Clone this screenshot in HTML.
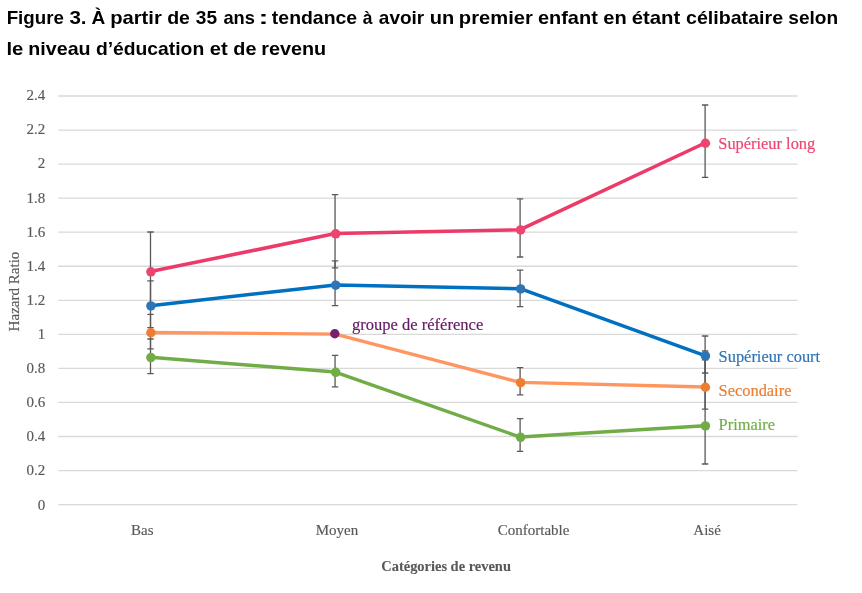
<!DOCTYPE html>
<html lang="fr"><head><meta charset="utf-8"><title>Figure 3</title>
<style>html,body{margin:0;padding:0;background:#fff}svg{display:block}</style></head>
<body>
<svg width="862" height="593" viewBox="0 0 862 593">
<rect width="862" height="593" fill="#fff"/>
<g stroke="#D9D9D9" stroke-width="1.3">
<line x1="58.2" x2="797.5" y1="504.60" y2="504.60"/>
<line x1="58.2" x2="797.5" y1="470.55" y2="470.55"/>
<line x1="58.2" x2="797.5" y1="436.50" y2="436.50"/>
<line x1="58.2" x2="797.5" y1="402.45" y2="402.45"/>
<line x1="58.2" x2="797.5" y1="368.40" y2="368.40"/>
<line x1="58.2" x2="797.5" y1="334.35" y2="334.35"/>
<line x1="58.2" x2="797.5" y1="300.30" y2="300.30"/>
<line x1="58.2" x2="797.5" y1="266.25" y2="266.25"/>
<line x1="58.2" x2="797.5" y1="232.20" y2="232.20"/>
<line x1="58.2" x2="797.5" y1="198.15" y2="198.15"/>
<line x1="58.2" x2="797.5" y1="164.10" y2="164.10"/>
<line x1="58.2" x2="797.5" y1="130.05" y2="130.05"/>
<line x1="58.2" x2="797.5" y1="96.00" y2="96.00"/>
</g>
<g font-family="'Liberation Serif', serif" font-size="15" fill="#595959" stroke="#595959" stroke-width="0.15" text-anchor="end">
<text x="45.2" y="509.60">0</text>
<text x="45.2" y="475.48">0.2</text>
<text x="45.2" y="441.37">0.4</text>
<text x="45.2" y="407.25">0.6</text>
<text x="45.2" y="373.13">0.8</text>
<text x="45.2" y="339.02">1</text>
<text x="45.2" y="304.90">1.2</text>
<text x="45.2" y="270.78">1.4</text>
<text x="45.2" y="236.66">1.6</text>
<text x="45.2" y="202.55">1.8</text>
<text x="45.2" y="168.43">2</text>
<text x="45.2" y="134.31">2.2</text>
<text x="45.2" y="100.20">2.4</text>
</g>
<g font-family="'Liberation Serif', serif" font-size="15" fill="#595959" stroke="#595959" stroke-width="0.15" text-anchor="middle">
<text x="142.3" y="535.3">Bas</text>
<text x="337.0" y="535.3">Moyen</text>
<text x="533.6" y="535.3">Confortable</text>
<text x="707.1" y="535.3">Aisé</text>
</g>
<text x="446.1" y="570.5" font-family="'Liberation Serif', serif" font-weight="bold" font-size="14.45" fill="#595959" stroke="#595959" stroke-width="0.1" text-anchor="middle">Catégories de revenu</text>
<text transform="translate(19.1,291.5) rotate(-90)" font-family="'Liberation Serif', serif" font-size="15.05" fill="#595959" stroke="#595959" stroke-width="0.15" text-anchor="middle">Hazard Ratio</text>
<g stroke="#595959" stroke-width="1.3" fill="none">
<path d="M147.30 232.0H153.70M150.50 232.0V305.7M147.30 305.7H153.70"/>
<path d="M147.30 280.8H153.70M150.50 280.8V327.7M147.30 327.7H153.70"/>
<path d="M147.30 314.4H153.70M150.50 314.4V348.8M147.30 348.8H153.70"/>
<path d="M147.30 339.0H153.70M150.50 339.0V373.6M147.30 373.6H153.70"/>
<path d="M331.85 194.7H338.25M335.05 194.7V267.9M331.85 267.9H338.25"/>
<path d="M331.85 260.8H338.25M335.05 260.8V305.7M331.85 305.7H338.25"/>
<path d="M331.85 355.4H338.25M335.05 355.4V386.8M331.85 386.8H338.25"/>
<path d="M516.90 198.9H523.30M520.10 198.9V257.0M516.90 257.0H523.30"/>
<path d="M516.90 270.1H523.30M520.10 270.1V306.6M516.90 306.6H523.30"/>
<path d="M516.90 367.6H523.30M520.10 367.6V394.9M516.90 394.9H523.30"/>
<path d="M516.90 418.6H523.30M520.10 418.6V451.4M516.90 451.4H523.30"/>
<path d="M701.90 105.0H708.30M705.10 105.0V177.3M701.90 177.3H708.30"/>
<path d="M701.90 336.0H708.30M705.10 336.0V373.0M701.90 373.0H708.30"/>
<path d="M701.90 359.8H708.30M705.10 359.8V409.2M701.90 409.2H708.30"/>
<path d="M701.90 351.0H708.30M705.10 351.0V464.0M701.90 464.0H708.30"/>
</g>
<polyline points="150.5,357.3 335.3,372.1 520.2,437.1 705.0,425.7" fill="none" stroke="#70AD47" stroke-width="3.5" stroke-linejoin="round" stroke-linecap="round"/>
<circle cx="150.9" cy="357.55" r="4.75" fill="#70AD47"/>
<circle cx="335.7" cy="372.35" r="4.75" fill="#70AD47"/>
<circle cx="520.6" cy="437.35" r="4.75" fill="#70AD47"/>
<circle cx="705.4" cy="425.95" r="4.75" fill="#70AD47"/>
<polyline points="150.5,332.5 335.3,334.2 520.2,382.4 705.0,387.0" fill="none" stroke="#FF9560" stroke-width="3.3" stroke-linejoin="round" stroke-linecap="round"/>
<circle cx="150.9" cy="332.75" r="4.75" fill="#ED7D31"/>
<circle cx="520.6" cy="382.65" r="4.75" fill="#ED7D31"/>
<circle cx="705.4" cy="387.25" r="4.75" fill="#ED7D31"/>
<polyline points="150.5,305.7 335.3,284.9 520.2,288.7 705.0,355.7" fill="none" stroke="#0070C0" stroke-width="3.5" stroke-linejoin="round" stroke-linecap="round"/>
<circle cx="150.9" cy="305.95" r="4.75" fill="#2E75B6"/>
<circle cx="335.7" cy="285.15" r="4.75" fill="#2E75B6"/>
<circle cx="520.6" cy="288.95" r="4.75" fill="#2E75B6"/>
<circle cx="705.4" cy="355.95" r="4.75" fill="#2E75B6"/>
<polyline points="150.5,271.6 335.3,233.6 520.2,229.7 705.0,143.0" fill="none" stroke="#EC3B68" stroke-width="3.55" stroke-linejoin="round" stroke-linecap="round"/>
<circle cx="150.9" cy="271.85" r="4.75" fill="#EE4570"/>
<circle cx="335.7" cy="233.85" r="4.75" fill="#EE4570"/>
<circle cx="520.6" cy="229.90" r="4.75" fill="#EE4570"/>
<circle cx="705.4" cy="143.25" r="4.75" fill="#EE4570"/>
<circle cx="334.8" cy="333.7" r="4.7" fill="#75206D"/>
<g font-family="'Liberation Serif', serif" font-size="16.4" stroke-width="0.18">
<text x="718.3" y="149.1" fill="#EE4570" stroke="#EE4570">Supérieur long</text>
<text x="718.6" y="362.0" fill="#2E75B6" stroke="#2E75B6">Supérieur court</text>
<text x="718.6" y="395.7" fill="#ED7D31" stroke="#ED7D31">Secondaire</text>
<text x="718.6" y="429.7" fill="#70AD47" stroke="#70AD47">Primaire</text>
<text x="352" y="329.9" fill="#651A65" stroke="#651A65" font-size="16.55">groupe de référence</text>
</g>
<g font-family="'Liberation Sans', sans-serif" font-weight="bold" font-size="19.0" fill="#000" style="font-kerning:none">
<text y="24.0"><tspan x="6.65" textLength="57.19" lengthAdjust="spacingAndGlyphs">Figure</tspan> <tspan x="69.43" textLength="17.19" lengthAdjust="spacingAndGlyphs">3.</tspan> <tspan x="91.42" textLength="13.78" lengthAdjust="spacingAndGlyphs">À</tspan> <tspan x="110.17" textLength="51.64" lengthAdjust="spacingAndGlyphs">partir</tspan> <tspan x="167.20" textLength="22.77" lengthAdjust="spacingAndGlyphs">de</tspan> <tspan x="195.86" textLength="21.27" lengthAdjust="spacingAndGlyphs">35</tspan> <tspan x="223.46" textLength="31.48" lengthAdjust="spacingAndGlyphs">ans</tspan> <tspan x="258.63" textLength="9.95" lengthAdjust="spacingAndGlyphs">:</tspan> <tspan x="271.86" textLength="85.30" lengthAdjust="spacingAndGlyphs">tendance</tspan> <tspan x="362.76" textLength="9.70" lengthAdjust="spacingAndGlyphs">à</tspan> <tspan x="378.84" textLength="45.44" lengthAdjust="spacingAndGlyphs">avoir</tspan> <tspan x="429.76" textLength="24.49" lengthAdjust="spacingAndGlyphs">un</tspan> <tspan x="458.87" textLength="73.93" lengthAdjust="spacingAndGlyphs">premier</tspan> <tspan x="537.92" textLength="59.92" lengthAdjust="spacingAndGlyphs">enfant</tspan> <tspan x="603.32" textLength="23.43" lengthAdjust="spacingAndGlyphs">en</tspan> <tspan x="631.70" textLength="48.64" lengthAdjust="spacingAndGlyphs">étant</tspan> <tspan x="686.03" textLength="97.04" lengthAdjust="spacingAndGlyphs">célibataire</tspan> <tspan x="788.33" textLength="49.75" lengthAdjust="spacingAndGlyphs">selon</tspan></text>
<text y="54.9"><tspan x="6.48" textLength="16.91" lengthAdjust="spacingAndGlyphs">le</tspan> <tspan x="28.30" textLength="62.29" lengthAdjust="spacingAndGlyphs">niveau</tspan> <tspan x="95.91" textLength="108.29" lengthAdjust="spacingAndGlyphs">d’éducation</tspan> <tspan x="209.71" textLength="17.93" lengthAdjust="spacingAndGlyphs">et</tspan> <tspan x="233.39" textLength="23.09" lengthAdjust="spacingAndGlyphs">de</tspan> <tspan x="261.19" textLength="65.01" lengthAdjust="spacingAndGlyphs">revenu</tspan></text>
</g>
</svg>
</body></html>
